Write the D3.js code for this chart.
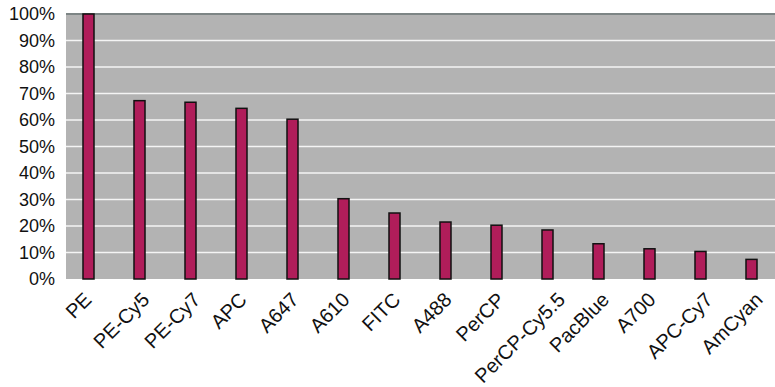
<!DOCTYPE html>
<html><head><meta charset="utf-8">
<script src="https://cdn.jsdelivr.net/npm/d3@7"></script>
<style>body{margin:0;background:#fff}svg{display:block}text{font-family:"Liberation Sans",Arial,sans-serif}</style>
</head><body><svg id="c" width="775" height="387"></svg>
<script>
const categories = ["PE","PE-Cy5","PE-Cy7","APC","A647","A610","FITC","A488","PerCP","PerCP-Cy5.5","PacBlue","A700","APC-Cy7","AmCyan"];
const values = [100,67.3,66.7,64.4,60.3,30.3,24.9,21.5,20.3,18.5,13.3,11.4,10.4,7.4];
const yTicks = [0,10,20,30,40,50,60,70,80,90,100];

const svg = d3.select("#c");
const pL = 66, pR = 775, pT = 14, pB = 279;
const x = d3.scaleBand().domain(categories).range([63, 63 + 51*categories.length]).paddingInner(0.78).paddingOuter(0.39);
const y = d3.scaleLinear().domain([0,100]).range([pB, pT]);

svg.append("rect").attr("x", pL).attr("y", pT).attr("width", pR-pL).attr("height", pB-pT).attr("fill", "#b3b3b3");
svg.append("g").selectAll("line").data(yTicks.filter(d=>d>0 && d<100)).join("line")
  .attr("x1", pL).attr("x2", pR).attr("y1", d=>y(d)).attr("y2", d=>y(d))
  .attr("stroke", "#f4f4f4").attr("stroke-width", 1.6);
svg.append("line").attr("x1", pL).attr("x2", pR).attr("y1", y(100)).attr("y2", y(100))
  .attr("stroke", "#7d8585").attr("stroke-width", 2);

const yAxis = d3.axisLeft(y).tickValues(yTicks).tickFormat(d=>d+"%").tickSize(0).tickPadding(11);
const ga = svg.append("g").attr("transform", `translate(${pL},0)`).call(yAxis);
ga.select(".domain").remove();
ga.selectAll("text").attr("font-size", 18).attr("fill", "#111").attr("font-family", '"Liberation Sans",Arial,sans-serif');

const bw = 11;
svg.append("g").selectAll("rect").data(categories).join("rect")
  .attr("x", (d)=> x(d) + x.bandwidth()/2 - bw/2)
  .attr("width", bw)
  .attr("y", (d,i)=> y(values[i]))
  .attr("height", (d,i)=> y(0) - y(values[i]))
  .attr("fill", "#b01d5a").attr("stroke", "#111").attr("stroke-width", 1.5);

const lbl = svg.append("g").selectAll("text").data(categories).join("text")
  .attr("text-anchor", "end").attr("font-size", 20).attr("fill", "#111")
  .text(d=>d);
lbl.attr("transform", function(d){
  const w = this.getComputedTextLength();
  return `translate(${x(d)+x.bandwidth()/2 + 0.16*w},${pB+22}) rotate(-45)`;
});
</script></body></html>
